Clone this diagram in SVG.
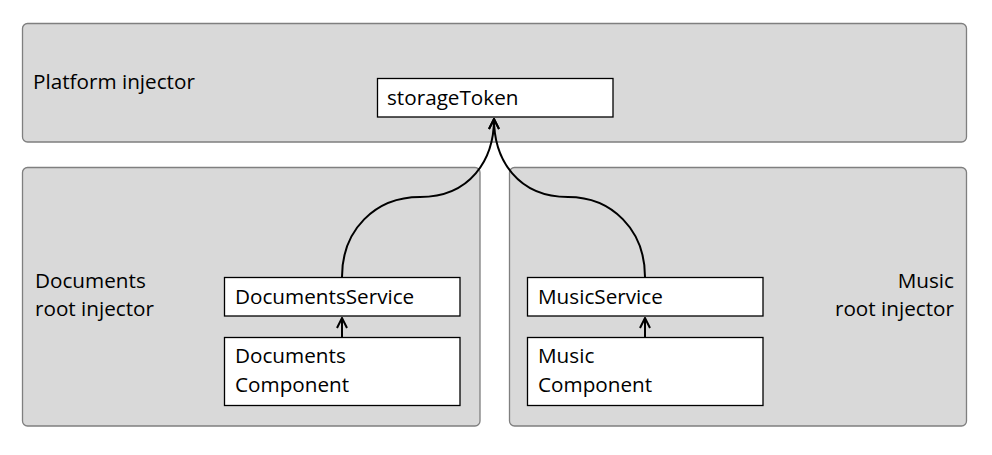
<svg xmlns="http://www.w3.org/2000/svg" width="992" height="455" viewBox="0 0 992 455">
<defs>
<style>
.panel{fill:#d9d9d9;stroke:#7f7f7f;stroke-width:1.3}
.box{fill:#ffffff;stroke:#000000;stroke-width:1.3}
text{font-family:"Open Sans","Noto Sans","Liberation Sans",sans-serif;font-size:20.7px;fill:#000000}
.conn{fill:none;stroke:#000000;stroke-width:2}
</style>
<marker id="arr2" viewBox="0 0 12 12" refX="11" refY="6" markerWidth="12" markerHeight="12" orient="auto" markerUnits="userSpaceOnUse">
<path d="M1,1 L11,6 L1,11" fill="none" stroke="#000" stroke-width="2"/>
</marker>
</defs>
<rect width="992" height="455" fill="#ffffff"/>
<g id="platform-injector">
<rect class="panel" x="22.5" y="23.5" width="944" height="118.5" rx="5"/>
<text x="33" y="89">Platform injector</text>
</g>
<g id="documents-injector">
<rect class="panel" x="22.5" y="167.5" width="457.5" height="258.5" rx="5"/>
<text x="35" y="288">Documents</text>
<text x="35" y="316">root injector</text>
</g>
<g id="music-injector">
<rect class="panel" x="509.5" y="167.5" width="457" height="258.5" rx="5"/>
<text x="954" y="288" text-anchor="end">Music</text>
<text x="954" y="316" text-anchor="end">root injector</text>
</g>
<g id="storageToken">
<rect class="box" x="377.5" y="78.5" width="235.5" height="38.5"/>
<text x="387" y="105">storageToken</text>
</g>
<g id="DocumentsService">
<rect class="box" x="224.5" y="277.5" width="235.5" height="38.5"/>
<text x="235" y="304">DocumentsService</text>
</g>
<g id="DocumentsComponent">
<rect class="box" x="224.5" y="337.5" width="235.5" height="68"/>
<text x="235" y="363">Documents</text>
<text x="235" y="392">Component</text>
</g>
<g id="MusicService">
<rect class="box" x="527.5" y="277.5" width="235.5" height="38.5"/>
<text x="538" y="304">MusicService</text>
</g>
<g id="MusicComponent">
<rect class="box" x="527.5" y="337.5" width="235.5" height="68"/>
<text x="538" y="363">Music</text>
<text x="538" y="392">Component</text>
</g>
<g id="connectors">
<path class="conn" d="M342,277 C342,230 375,197 420,197 C470,197 494,160 494,119" marker-end="url(#arr2)"/>
<path class="conn" d="M645,277 C645,230 612,197 568,197 C518,197 494,160 494,119" marker-end="url(#arr2)"/>
<path class="conn" d="M342,337 L342,318" marker-end="url(#arr2)"/>
<path class="conn" d="M645,337 L645,318" marker-end="url(#arr2)"/>
</g>
</svg>
